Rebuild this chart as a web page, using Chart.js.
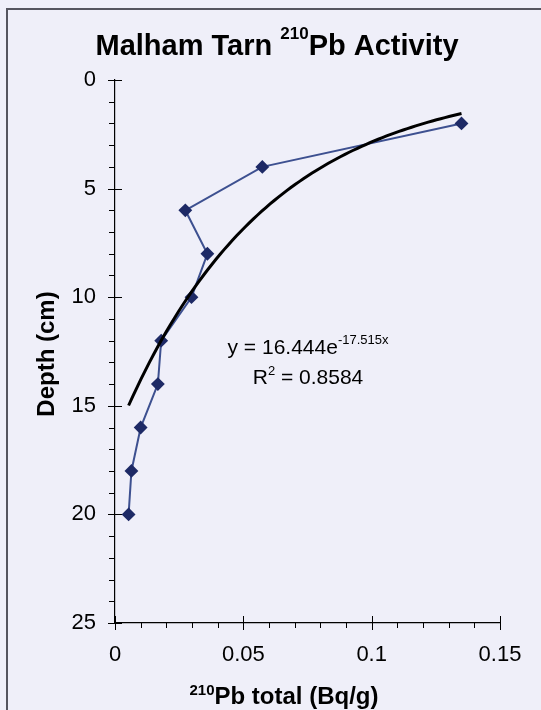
<!DOCTYPE html>
<html>
<head>
<meta charset="utf-8">
<title>Malham Tarn 210Pb Activity</title>
<script src="https://cdn.jsdelivr.net/npm/chart.js@4/dist/chart.umd.min.js"></script>
<style>
  html, body { margin: 0; padding: 0; background: #efeff9; }
  #wrap { width: 541px; height: 710px; }
</style>
</head>
<body>
<div id="wrap"><canvas id="chart" width="541" height="710"></canvas></div>
<script>
// core samples: depth (cm) and total 210Pb activity (Bq/g)
const depths = [2, 4, 6, 8, 10, 12, 14, 16, 18, 20];
const activity = [0.135, 0.0574, 0.0274, 0.036, 0.0298, 0.018, 0.0167, 0.010, 0.0064, 0.0053];

// exponential trendline: depth = A * e^(B * activity)
const fitA = 16.444;
const fitB = -17.515;
const rSquared = '0.8584';

const xTickLabels = ['0', '0.05', '0.1', '0.15'];
const yTickLabels = ['0', '5', '10', '15', '20', '25'];

const FONT = '"Liberation Sans", Arial, sans-serif';

// trendline spans the measured activity range
const xLo = Math.min(...activity);
const xHi = Math.max(...activity);
const trend = [];
for (let i = 0; i <= 80; i++) {
    const x = xLo + (xHi - xLo) * i / 80;
    trend.push({ x: x, y: fitA * Math.exp(fitB * x) });
}

// text made of runs: [text, size, bold, rise]
function drawRuns(ctx, runs, x, y, align) {
    const fontOf = r => (r[2] ? 'bold ' : '') + r[1] + 'px ' + FONT;
    const widths = runs.map(r => { ctx.font = fontOf(r); return ctx.measureText(r[0]).width; });
    const total = widths.reduce((s, w) => s + w, 0);
    let cx = align === 'center' ? x - total / 2 : x;
    ctx.textAlign = 'left';
    ctx.textBaseline = 'alphabetic';
    runs.forEach((r, i) => {
        ctx.font = fontOf(r);
        ctx.fillText(r[0], cx, y - r[3]);
        cx += widths[i];
    });
}

const frame = {
    id: 'frame',
    beforeDraw(chart) {
        const ctx = chart.ctx;
        ctx.save();
        ctx.fillStyle = '#efeff9';
        ctx.fillRect(0, 0, chart.width, chart.height);
        ctx.strokeStyle = '#55555f';
        ctx.lineWidth = 2;
        ctx.strokeRect(7, 9, chart.width + 20, chart.height + 20);
        ctx.restore();
    }
};

// Excel-style tick marks: majors cross the axis, minors sit outside
const tickMarks = {
    id: 'tickMarks',
    beforeDatasetsDraw(chart) {
        const { ctx, chartArea: a } = chart;
        const x = chart.scales.x, y = chart.scales.y;
        ctx.save();
        ctx.strokeStyle = '#000';
        ctx.lineWidth = 1;
        ctx.beginPath();
        for (let v = 0; v <= 25; v++) {
            const py = Math.round(y.getPixelForValue(v)) + 0.5;
            const major = v % 5 === 0;
            ctx.moveTo(a.left - (major ? 7 : 6), py);
            ctx.lineTo(a.left + (major ? 7 : 0), py);
        }
        for (let k = 0; k <= 15; k++) {
            const px = Math.round(x.getPixelForValue(k / 100)) + 0.5;
            const major = k % 5 === 0;
            ctx.moveTo(px, a.bottom - (major ? 7 : 0));
            ctx.lineTo(px, a.bottom + (major ? 7 : 5));
        }
        ctx.stroke();
        ctx.restore();
    }
};

const labels = {
    id: 'labels',
    afterDraw(chart) {
        const ctx = chart.ctx;
        ctx.save();
        ctx.fillStyle = '#000';
        drawRuns(ctx, [['Malham Tarn ', 29, true, 0], ['210', 17, true, 16], ['Pb Activity', 29, true, 0]], 277, 55, 'center');
        drawRuns(ctx, [['210', 15, true, 9], ['Pb total (Bq/g)', 24, true, 0]], 284, 704, 'center');
        drawRuns(ctx, [['y = ' + fitA + 'e', 21, false, 0], [String(fitB) + 'x', 13, false, 10]], 308, 354, 'center');
        drawRuns(ctx, [['R', 21, false, 0], ['2', 13, false, 9], [' = ' + rSquared, 21, false, 0]], 308, 384, 'center');
        ctx.translate(45, 354);
        ctx.rotate(-Math.PI / 2);
        drawRuns(ctx, [['Depth (cm)', 24, true, 0]], 0, 8.5, 'center');
        ctx.restore();
    }
};

new Chart(document.getElementById('chart'), {
    type: 'scatter',
    data: {
        datasets: [
            {
                label: 'Total 210Pb',
                data: depths.map((d, i) => ({ x: activity[i], y: d })),
                showLine: true,
                borderColor: '#3d5090',
                borderWidth: 2,
                pointStyle: 'rectRot',
                pointRadius: 5.5,
                pointBackgroundColor: '#1e2a66',
                pointBorderColor: '#1e2a66',
                order: 1
            },
            {
                label: 'Expon. fit',
                data: trend,
                showLine: true,
                borderColor: '#000',
                borderWidth: 3,
                pointRadius: 0,
                order: 0
            }
        ]
    },
    options: {
        responsive: false,
        animation: false,
        layout: { padding: { top: 80, right: 41, left: 0, bottom: 0 } },
        plugins: { legend: { display: false }, tooltip: { enabled: false } },
        scales: {
            x: {
                type: 'linear',
                min: 0,
                max: 0.15,
                ticks: {
                    stepSize: 0.05,
                    callback: v => xTickLabels[Math.round(v / 0.05)],
                    font: { family: FONT, size: 22 },
                    color: '#000',
                    padding: 19,
                    maxRotation: 0
                },
                grid: { display: false, drawTicks: false },
                border: { color: '#000', width: 1.2 },
                afterFit: s => { s.height = 87; }
            },
            y: {
                type: 'linear',
                reverse: true,
                min: 0,
                max: 25,
                ticks: {
                    stepSize: 5,
                    callback: v => yTickLabels[Math.round(v / 5)],
                    font: { family: FONT, size: 22 },
                    color: '#000',
                    padding: 19
                },
                grid: { display: false, drawTicks: false },
                border: { color: '#000', width: 1.2 },
                afterFit: s => { s.width = 115; }
            }
        }
    },
    plugins: [frame, tickMarks, labels]
});
</script>
</body>
</html>
